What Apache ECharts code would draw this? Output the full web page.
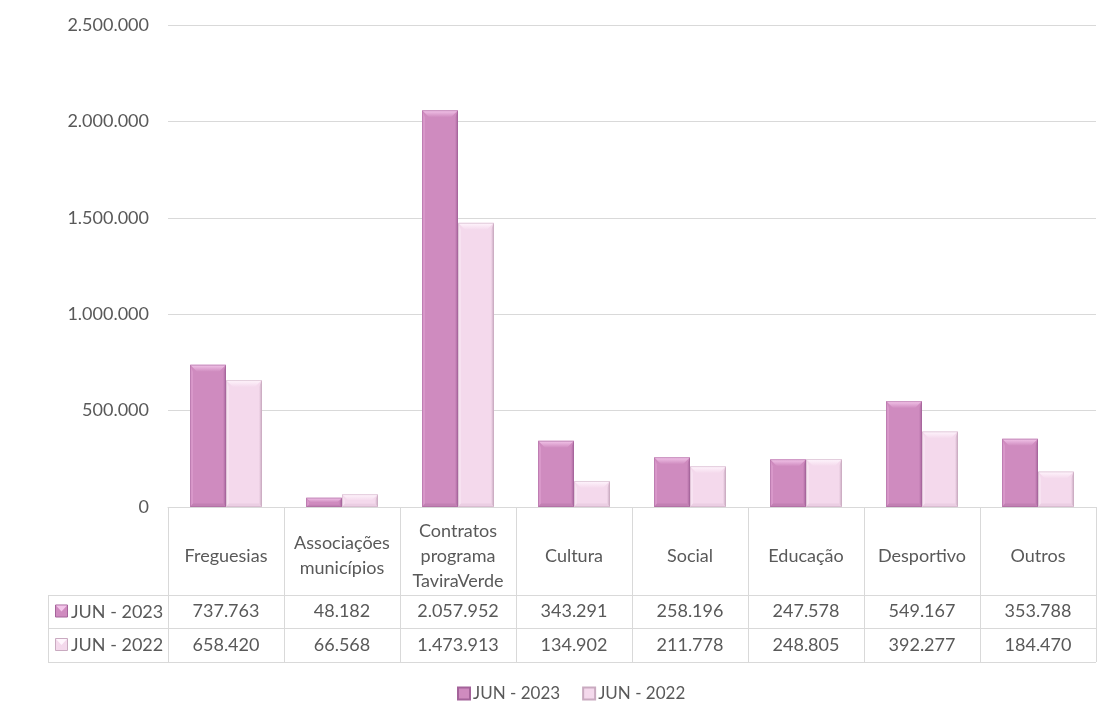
<!DOCTYPE html>
<html>
<head>
<meta charset="utf-8">
<title>Apoios JUN 2023 vs JUN 2022</title>
<script src="https://cdn.jsdelivr.net/npm/echarts@6/dist/echarts.min.js"></script>
<style>
  html, body { margin: 0; padding: 0; background: #ffffff; }
  #chart { width: 1106px; height: 718px; }
</style>
</head>
<body>
<div id="chart"></div>
<script>
// Categories and yearly values
const categories = ['Freguesias', 'Associações\nmunicípios', 'Contratos\nprograma\nTaviraVerde', 'Cultura', 'Social', 'Educação', 'Desportivo', 'Outros'];
const seriesNames = ['JUN - 2023', 'JUN - 2022'];
const values2023 = [737763, 48182, 2057952, 343291, 258196, 247578, 549167, 353788];
const values2022 = [658420, 66568, 1473913, 134902, 211778, 248805, 392277, 184470];
const yTicks = { min: 0, max: 2500000, interval: 500000 };

// Colour sets for the bevelled columns: face, top bevel, highlight, shade
const palettes = [
  { face: '#CF8BBF', top: '#F3C6EA', hi: '#D998CA', shade: '#A4639A', base: '#B575A8' },
  { face: '#F4D9EC', top: '#FFF6FD', hi: '#F7E2F1', shade: '#C9AAC0', base: '#E2C3D9' }
];

const FONT = 'Lato, "Open Sans", sans-serif';
const FS = 18;
const TEXT = '#595959';
const LINE = '#D9D9D9';

// Thousands separated with dots
function fmt(n) {
  return String(n).replace(/\B(?=(\d{3})+(?!\d))/g, '.');
}

const GRID = { left: 168, right: 10, top: 25, bottom: 211 };
const TABLE_LEFT = 48;
const ROW_LINES = [595, 628, 662];

function bevelRenderer(seriesIdx) {
  const pal = palettes[seriesIdx];
  return function (params, api) {
    const idx = api.value(0);
    const val = api.value(1);
    const band = api.size([1, 0])[0];
    const w = band * 0.31;
    const topPt = api.coord([idx, val]);
    const basePt = api.coord([idx, 0]);
    const x = seriesIdx === 0 ? topPt[0] - w : topPt[0];
    const top = topPt[1];
    const bottom = basePt[1];
    const h = bottom - top;
    const bev = Math.min(7, h / 2);
    const side = Math.min(3, w / 4);
    const children = [
      { type: 'rect', shape: { x: x, y: top, width: w, height: h }, style: { fill: pal.face } },
      // left edge
      { type: 'polygon', shape: { points: [[x, top], [x + side, top + bev], [x + side, bottom - bev / 2], [x, bottom]] },
        style: { fill: pal.hi } },
      // right edge shade
      { type: 'polygon', shape: { points: [[x + w, top], [x + w - side, top + bev], [x + w - side, bottom - bev / 2], [x + w, bottom]] },
        style: { fill: new echarts.graphic.LinearGradient(1, 0, 0, 0, [{ offset: 0, color: pal.shade }, { offset: 1, color: pal.face }]) } },
      // bottom bevel
      { type: 'polygon', shape: { points: [[x, bottom], [x + side, bottom - bev / 2], [x + w - side, bottom - bev / 2], [x + w, bottom]] },
        style: { fill: pal.base, opacity: 0.5 } },
      // top bevel
      { type: 'polygon', shape: { points: [[x, top], [x + w, top], [x + w - bev, top + bev], [x + bev, top + bev]] },
        style: { fill: new echarts.graphic.LinearGradient(0, 0, 0, 1, [{ offset: 0, color: pal.top }, { offset: 1, color: pal.face }]) } },
      // thin outline
      { type: 'rect', shape: { x: x + 0.5, y: top + 0.5, width: w - 1, height: h - 1 },
        style: { fill: null, stroke: pal.shade, lineWidth: 1, opacity: 0.5 } }
    ];
    return { type: 'group', children: children };
  };
}

function seriesData(vals) {
  return vals.map((v, i) => [i, v]);
}

const chart = echarts.init(document.getElementById('chart'), null, { renderer: 'canvas' });

const valueAxisLabels = [values2023, values2022].map(v => v.map(fmt));

// Row labels and table rules beneath the plot
const graphics = [];
ROW_LINES.forEach(y => {
  graphics.push({ type: 'line', shape: { x1: TABLE_LEFT, y1: y + 0.5, x2: 1106 - GRID.right, y2: y + 0.5 },
    style: { stroke: LINE, lineWidth: 1 }, silent: true });
});
graphics.push({ type: 'line', shape: { x1: TABLE_LEFT + 0.5, y1: ROW_LINES[0], x2: TABLE_LEFT + 0.5, y2: ROW_LINES[2] },
  style: { stroke: LINE, lineWidth: 1 }, silent: true });
seriesNames.forEach((name, i) => {
  const cy = (ROW_LINES[i] + ROW_LINES[i + 1]) / 2;
  const pal = palettes[i];
  graphics.push({ type: 'rect', shape: { x: 55.5, y: cy - 6.5, width: 12, height: 12 },
    style: { fill: pal.face, stroke: pal.shade, lineWidth: 1 }, silent: true });
  graphics.push({ type: 'polygon', shape: { points: [[56, cy - 6], [67, cy - 6], [61.5, cy]] },
    style: { fill: pal.top }, silent: true });
  graphics.push({ type: 'text', x: 71, y: cy + 0.5, style: { text: name, font: FS + 'px ' + FONT, fill: TEXT,
    textVerticalAlign: 'middle', verticalAlign: 'middle' }, silent: true });
});

const option = {
  backgroundColor: '#ffffff',
  animation: false,
  textStyle: { fontFamily: FONT },
  grid: GRID,
  legend: {
    data: seriesNames,
    bottom: 11,
    left: 452,
    icon: 'rect',
    itemWidth: 12,
    itemHeight: 12,
    itemGap: 22,
    textStyle: { fontSize: 17, color: TEXT, fontFamily: FONT, padding: [0, 0, 0, -2] }
  },
  xAxis: [
    {
      type: 'category',
      data: categories,
      axisLine: { lineStyle: { color: LINE } },
      axisTick: { show: true, length: 155, lineStyle: { color: LINE }, interval: 0 },
      axisLabel: { interval: 0, margin: 49, verticalAlign: 'middle', lineHeight: 25,
        fontSize: FS, color: TEXT, fontFamily: FONT }
    },
    {
      type: 'category',
      data: valueAxisLabels[0],
      position: 'bottom',
      axisLine: { show: false },
      axisTick: { show: false },
      axisLabel: { interval: 0, margin: 104, verticalAlign: 'middle', fontSize: FS, color: TEXT, fontFamily: FONT }
    },
    {
      type: 'category',
      data: valueAxisLabels[1],
      position: 'bottom',
      axisLine: { show: false },
      axisTick: { show: false },
      axisLabel: { interval: 0, margin: 138, verticalAlign: 'middle', fontSize: FS, color: TEXT, fontFamily: FONT }
    }
  ],
  yAxis: {
    type: 'value',
    min: yTicks.min,
    max: yTicks.max,
    interval: yTicks.interval,
    axisLine: { show: false },
    axisTick: { show: false },
    splitLine: { lineStyle: { color: LINE } },
    axisLabel: { formatter: v => fmt(v), fontSize: FS, color: TEXT, margin: 19, fontFamily: FONT }
  },
  series: [values2023, values2022].map((vals, i) => ({
    name: seriesNames[i],
    type: 'custom',
    xAxisIndex: 0,
    renderItem: bevelRenderer(i),
    encode: { x: 0, y: 1 },
    itemStyle: { color: palettes[i].face, borderColor: palettes[i].shade, borderWidth: 1 },
    data: seriesData(vals)
  })),
  graphic: graphics
};

chart.setOption(option);
</script>
</body>
</html>
